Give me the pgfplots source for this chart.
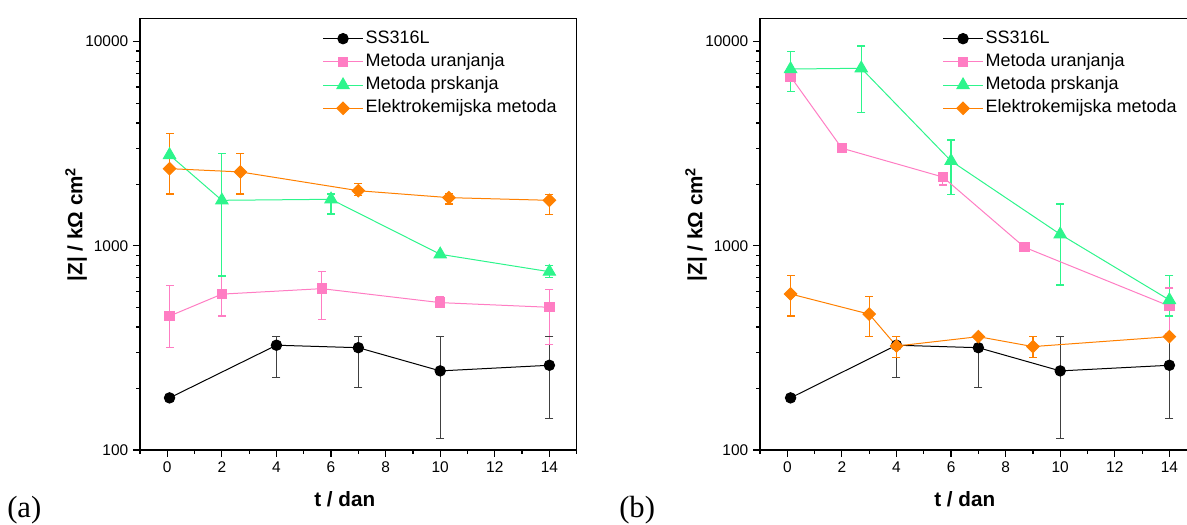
\documentclass[border=0pt]{standalone}
\usepackage{pgfplots}
\pgfplotsset{compat=1.18}
\usepackage{fontspec}
\setmainfont{Liberation Sans}
\newfontfamily\timesfont{Liberation Serif}
\definecolor{cpink}{RGB}{255,125,195}
\definecolor{cgreen}{RGB}{45,245,140}
\definecolor{corange}{RGB}{255,128,0}
\newcommand{\eb}[4]{\addplot[#1, forget plot, line width=0.9pt, mark=-, mark size=3pt, mark options={solid, line width=0.9pt}] coordinates {(#2,#3) (#2,#4)};}
\pgfplotsset{
  legend image code/.code={\draw[mark repeat=2,mark phase=2,#1] plot coordinates {(0pt,0pt)(15pt,0pt)(30pt,0pt)};},
  legend cell align=left,
  sblack/.style={black, line width=0.75pt, mark=*, mark size=3.9pt, mark options={solid, fill=black}},
  spink/.style={cpink, line width=0.75pt, mark=square*, mark size=3.5pt, mark options={solid, fill=cpink}},
  sgreen/.style={cgreen, line width=0.75pt, mark=triangle*, mark size=5.3pt, mark options={solid, fill=cgreen}},
  sorange/.style={corange, line width=0.75pt, mark=square*, mark size=3.3pt, mark options={solid, fill=corange, rotate=45}},
}
\pgfplotsset{
  myaxis/.style={
    scale only axis, width=327.5pt, height=323.8pt,
    xmin=-1, xmax=15, ymin=100, ymax=13020,
    xtick={0,2,...,14}, minor xtick={-1,1,3,5,7,9,11,13,15},
    ytick={100,1000,10000}, yticklabels={100,1000,10000},
    minor ytick={200,300,400,500,600,700,800,900,2000,3000,4000,5000,6000,7000,8000,9000},
    xtick pos=lower, ytick pos=left, tick align=outside,
    major tick length=5.25pt, minor tick length=3pt,
    tick style={black, line width=0.9pt},
    axis line style={line width=1pt},
    tick label style={font=\fontsize{11.6}{13}\selectfont},
    xlabel={t / dan},
    ylabel={|Z| / kΩ cm\textsuperscript{2}},
    every axis x label/.style={at={(axis description cs:0.469,0)}, anchor=base, yshift=-42.75pt, font=\fontsize{15.5}{18}\selectfont\bfseries},
    every axis y label/.style={at={(axis description cs:-0.132,0.523)}, rotate=90, anchor=base, font=\fontsize{15.5}{18}\selectfont\bfseries},
    legend style={at={(axis description cs:0.4174,0.978)}, anchor=north west, draw=none, fill=none,
      font=\fontsize{13.5}{15}\selectfont, row sep=1.4pt, inner sep=0pt,
      nodes={inner sep=1.5pt, text height=10pt, text depth=3pt}},
  },
}
\begin{document}
\begin{tikzpicture}[x=0.75pt,y=0.75pt]
\useasboundingbox (0,0) rectangle (1187,524);
% ---------------- (a)
\begin{semilogyaxis}[myaxis, /pgf/number format/assume math mode=true, at={(105pt,55.5pt)}, anchor=south west]
\eb{black!75}{4}{226}{359}
\eb{black!75}{7}{202}{359}
\eb{black!75}{10}{114}{359}
\eb{black!75}{14}{143}{359}
\eb{cpink}{0.083}{318}{638}
\eb{cpink}{2}{453}{711}
\eb{cpink}{5.66}{437}{750}
\eb{cpink}{10}{507}{564}
\eb{cpink}{14}{330}{612}
\eb{cgreen}{2}{711}{2838}
\eb{cgreen}{6}{1432}{1795}
\eb{cgreen}{14}{698}{800}
\eb{corange}{0.083}{1795}{3558}
\eb{corange}{2.68}{1795}{2838}
\eb{corange}{7}{1762}{2013}
\eb{corange}{10.32}{1603}{1808}
\eb{corange}{14}{1427}{1790}
\addplot[sblack] coordinates {(0.083,180) (4,326) (7,317) (10,244) (14,260)};
\addplot[spink] coordinates {(0.083,453) (2,580) (5.66,617) (10,527) (14,500)};
\addplot[sgreen] coordinates {(0.083,2786) (2,1671) (6,1690) (10,909) (14,747)};
\addplot[sorange] coordinates {(0.083,2388) (2.68,2301) (7,1862) (10.32,1722) (14,1671)};
\legend{SS316L, Metoda uranjanja, Metoda prskanja, Elektrokemijska metoda}
\end{semilogyaxis}
% ---------------- (b)
\begin{semilogyaxis}[myaxis, /pgf/number format/assume math mode=true, at={(570pt,55.5pt)}, anchor=south west]
\eb{black!75}{4}{226}{359}
\eb{black!75}{7}{202}{359}
\eb{black!75}{10}{114}{359}
\eb{black!75}{14}{143}{359}
\eb{cpink}{5.70}{1987}{2250}
\eb{cpink}{14}{372}{622}
\eb{cgreen}{0.12}{5675}{8978}
\eb{cgreen}{2.71}{4508}{9527}
\eb{cgreen}{6}{1789}{3300}
\eb{cgreen}{10}{643}{1603}
\eb{cgreen}{14}{453}{714}
\eb{corange}{0.12}{453}{714}
\eb{corange}{3}{359}{566}
\eb{corange}{4}{284}{359}
\eb{corange}{9}{284}{359}
\addplot[sblack] coordinates {(0.12,180) (4,326) (7,317) (10,244) (14,260)};
\addplot[spink] coordinates {(0.12,6741) (2,3006) (5.70,2173) (8.69,984) (14,507)};
\addplot[sgreen] coordinates {(0.12,7345) (2.71,7408) (6,2604) (10,1139) (14,543)};
\addplot[sorange] coordinates {(0.12,581) (3,463) (4,323) (7,359) (9,321) (14,359)};
\legend{SS316L, Metoda uranjanja, Metoda prskanja, Elektrokemijska metoda}
\end{semilogyaxis}
\node[anchor=base west, inner sep=0pt, font=\fontsize{23}{26}\timesfont] at (7,6.5) {(a)};
\node[anchor=base west, inner sep=0pt, font=\fontsize{23}{26}\timesfont] at (619,6.5) {(b)};
\end{tikzpicture}
\end{document}
